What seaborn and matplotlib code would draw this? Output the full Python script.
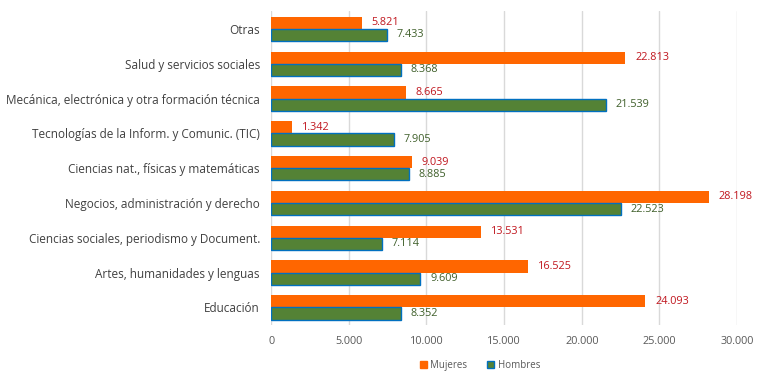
import matplotlib
matplotlib.use("Agg")
import matplotlib.pyplot as plt
import seaborn as sns
import pandas as pd
from matplotlib.ticker import FuncFormatter
from matplotlib.patches import Patch

categories = [
    "Otras",
    "Salud y servicios sociales",
    "Mecánica, electrónica y otra formación técnica",
    "Tecnologías de la Inform. y Comunic. (TIC)",
    "Ciencias nat., físicas y matemáticas",
    "Negocios, administración y derecho",
    "Ciencias sociales, periodismo y Document.",
    "Artes, humanidades y lenguas",
    "Educación",
]
mujeres = [5821, 22813, 8665, 1342, 9039, 28198, 13531, 16525, 24093]
hombres = [7433, 8368, 21539, 7905, 8885, 22523, 7114, 9609, 8352]
series = ["Mujeres", "Hombres"]
x_ticks = [0, 5000, 10000, 15000, 20000, 25000, 30000]

df = pd.DataFrame({
    "cat": categories * 2,
    "serie": [series[0]] * len(categories) + [series[1]] * len(categories),
    "valor": mujeres + hombres,
})

sns.set_theme(style="white")
plt.rcParams["font.family"] = ["Open Sans", "DejaVu Sans"]

fig = plt.figure(figsize=(7.68, 3.83), dpi=100)
ax = fig.add_axes([0.353, 0.152, 0.6068, 0.818])

c_muj = "#FF6600"
c_hom = "#548235"
sns.barplot(data=df, y="cat", x="valor", hue="serie", order=categories,
            hue_order=series, palette=[c_muj, c_hom], width=0.7,
            orient="h", ax=ax, legend=False, saturation=1)

for cont, serie in zip(ax.containers, series):
    for bar in cont:
        if serie == "Hombres":
            bar.set_edgecolor("#0070C0")
            bar.set_linewidth(1.0)
        else:
            bar.set_linewidth(0)
    col = "#C0161E" if serie == "Mujeres" else "#3F5F2A"
    ax.bar_label(cont, labels=[f"{int(b.get_width()):,}".replace(",", ".") for b in cont],
                 padding=7, fontsize=7.8, color=col)

ax.set_xlim(0, 30000)
ax.set_xticks(x_ticks)
ax.xaxis.set_major_formatter(FuncFormatter(lambda v, p: f"{int(v):,}".replace(",", ".")))
ax.grid(axis="x", color="#D9D9D9", linewidth=1)
ax.set_axisbelow(True)
for s in ax.spines.values():
    s.set_visible(False)
ax.set_xlabel("")
ax.set_ylabel("")
ax.tick_params(axis="x", labelsize=7.8, colors="#595959", length=0, pad=8)
ax.tick_params(axis="y", labelsize=8.5, colors="#404040", length=0, pad=8)

handles = [Patch(facecolor=c_muj, edgecolor=c_muj),
           Patch(facecolor=c_hom, edgecolor="#0070C0", linewidth=1)]
fig.legend(handles, series, loc="center", bbox_to_anchor=(0.625, 0.045), ncol=2,
           frameon=False, fontsize=7, handlelength=0.7, handleheight=0.7,
           columnspacing=2.0, handletextpad=0.4, labelcolor="#595959")

fig.savefig("out.png", dpi=100)
